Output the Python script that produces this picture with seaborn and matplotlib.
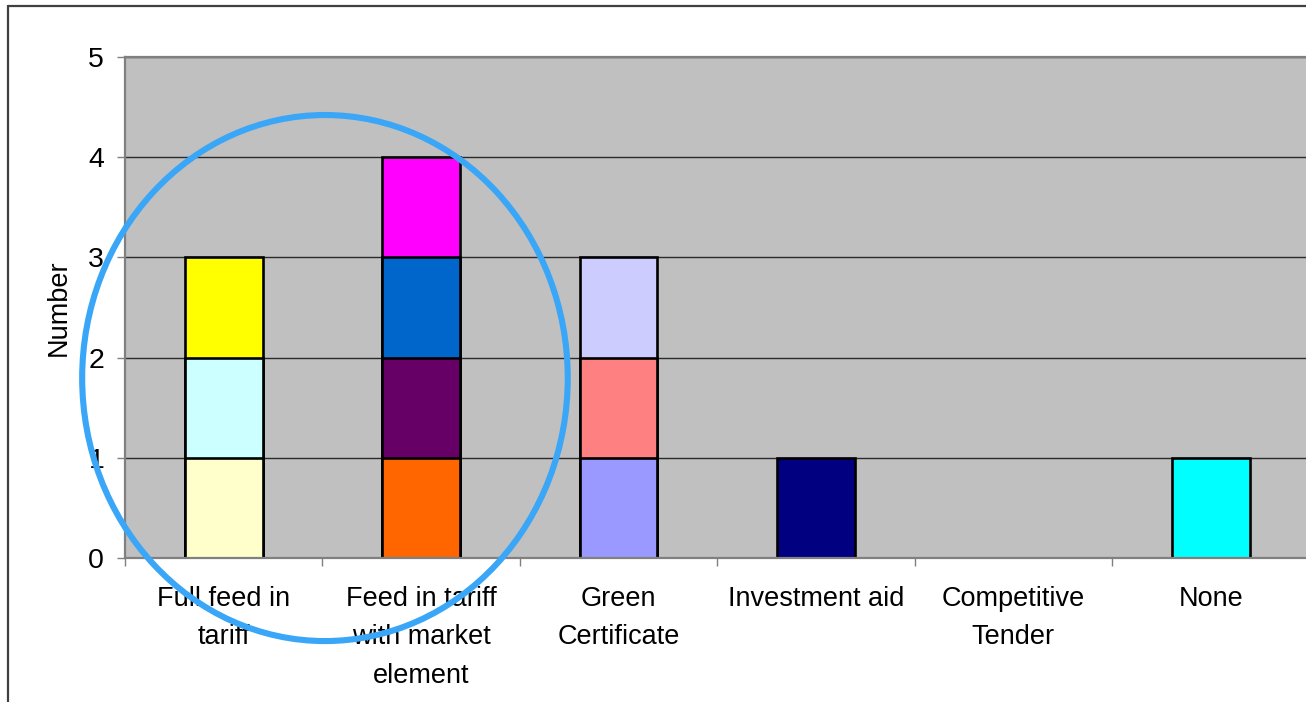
import numpy as np
import pandas as pd
import matplotlib
matplotlib.use("Agg")
import matplotlib.pyplot as plt
from matplotlib.patches import Ellipse
from matplotlib.lines import Line2D
import seaborn as sns

# Support schemes on the category axis
categories = [
    "Full feed in\ntariff",
    "Feed in tariff\nwith market\nelement",
    "Green\nCertificate",
    "Investment aid",
    "Competitive\nTender",
    "None",
]

# Stacked segments, bottom to top (count per scheme)
layer1 = [1, 1, 1, 1, 0, 1]
layer2 = [1, 1, 1, 0, 0, 0]
layer3 = [1, 1, 1, 0, 0, 0]
layer4 = [0, 1, 0, 0, 0, 0]

layer1_colors = ["#FFFFCC", "#FF6600", "#9999FF", "#000080", "#C0C0C0", "#00FFFF"]
layer2_colors = ["#CCFFFF", "#660066", "#FF8080", "#C0C0C0", "#C0C0C0", "#C0C0C0"]
layer3_colors = ["#FFFF00", "#0066CC", "#CCCCFF", "#C0C0C0", "#C0C0C0", "#C0C0C0"]
layer4_colors = ["#C0C0C0", "#FF00FF", "#C0C0C0", "#C0C0C0", "#C0C0C0", "#C0C0C0"]

y_ticks = [0, 1, 2, 3, 4, 5]

layers = [layer1, layer2, layer3, layer4]
layer_colors = [layer1_colors, layer2_colors, layer3_colors, layer4_colors]

sns.set_theme(style="white")
plt.rcParams["font.family"] = ["Liberation Sans", "DejaVu Sans"]
plt.rcParams["text.color"] = "black"
plt.rcParams["axes.labelcolor"] = "black"
plt.rcParams["xtick.color"] = "black"
plt.rcParams["ytick.color"] = "black"

W, H = 1306, 702
fig = plt.figure(figsize=(W / 100, H / 100), dpi=100)
fig.patch.set_facecolor("white")

left, top, bottom = 125, 57, 558
slot = 197.4
ax = fig.add_axes([left / W, 1 - bottom / H, 6 * slot / W, (bottom - top) / H])
ax.set_facecolor("#C0C0C0")

# Stack by overlaying cumulative totals, tallest first
cum = np.cumsum(np.array(layers), axis=0)
for k in range(len(layers) - 1, -1, -1):
    keep = [i for i in range(len(categories)) if layers[k][i] > 0]
    df = pd.DataFrame({
        "scheme": [categories[i] for i in keep],
        "count": [cum[k][i] for i in keep],
    })
    pal = {categories[i]: layer_colors[k][i] for i in keep}
    sns.barplot(
        data=df, x="scheme", y="count", order=categories,
        hue="scheme", palette=pal, saturation=1, legend=False,
        width=0.395, edgecolor="black", linewidth=1.9,
        errorbar=None, ax=ax,
    )

ax.set_xlim(-0.5, len(categories) - 0.5)
ax.set_ylim(0, 5)

# Y axis
ax.set_yticks(y_ticks)
ax.set_yticklabels([str(t) for t in y_ticks], fontsize=20.5)
ax.yaxis.grid(True, color="#2a2a2a", linewidth=1.0)
ax.xaxis.grid(False)
ax.set_axisbelow(True)
ax.set_ylabel("Number", fontsize=19.5, labelpad=12)
ax.tick_params(axis="y", which="major", length=6, width=1.0, color="#808080",
               pad=9, left=True, labelcolor="black")

# X axis: tick marks between categories, labels centred under bars
ax.set_xticks(np.arange(len(categories) + 1) - 0.5)
ax.set_xticklabels([""] * (len(categories) + 1))
ax.set_xticks(np.arange(len(categories)), minor=True)
ax.set_xticklabels(categories, minor=True, fontsize=19.5, linespacing=1.62,
                   va="top")
ax.tick_params(axis="x", which="major", length=6, width=1.0, color="#808080",
               bottom=True)
ax.tick_params(axis="x", which="minor", length=0, pad=20, labelcolor="black")
ax.set_xlabel("")

for side in ["left", "bottom", "top"]:
    ax.spines[side].set_visible(True)
    ax.spines[side].set_color("#808080")
    ax.spines[side].set_linewidth(1.6)
ax.spines["right"].set_visible(False)

# Highlight around the two feed-in tariff schemes
ring = Ellipse((0.513, 1.796), width=2.46, height=5.25, fill=False,
               edgecolor="#3AA6F8", linewidth=4.4, clip_on=False, zorder=10)
ax.add_patch(ring)

# Chart frame (left and top edges)
fig.add_artist(Line2D([7.5 / W, 7.5 / W], [0, 1 - 5.5 / H],
                      transform=fig.transFigure, color="#404040", linewidth=1.6))
fig.add_artist(Line2D([7.5 / W, 1], [1 - 5.5 / H, 1 - 5.5 / H],
                      transform=fig.transFigure, color="#404040", linewidth=1.6))

fig.savefig("out.png", dpi=100)
